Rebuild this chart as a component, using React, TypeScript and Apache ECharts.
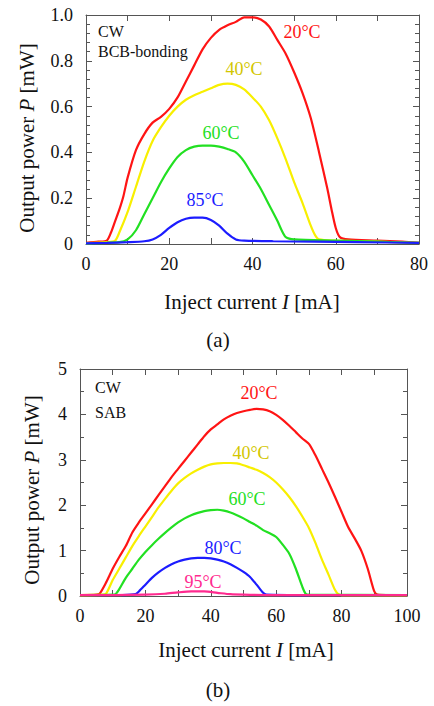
import React, { useEffect, useRef } from "react";
import * as echarts from "echarts";

// ---------- data: (a) BCB-bonding, current [mA] vs power [mW] ----------
const aRed20: [number, number][] = [
  [0, 0.005], [3, 0.01], [5, 0.015], [6, 0.05], [7, 0.1], [8, 0.15], [9, 0.21], [10, 0.29], [12, 0.41], [14, 0.48],
  [16, 0.53], [18, 0.555], [20, 0.59], [22, 0.64], [24, 0.71], [26, 0.78], [28, 0.85], [30, 0.9], [32, 0.935],
  [34, 0.955], [36, 0.97], [38, 0.99], [40, 0.99], [42, 0.98], [44, 0.95], [46, 0.89], [48, 0.83], [50, 0.75],
  [52, 0.66], [54, 0.55], [56, 0.4], [58, 0.24], [59, 0.15], [60, 0.07], [61, 0.03], [63, 0.02], [70, 0.015],
  [76, 0.01], [80, 0.005],
];
const aYellow40: [number, number][] = [
  [0, 0.003], [5, 0.008], [7, 0.015], [8, 0.05], [10, 0.14], [12, 0.25], [14, 0.36], [16, 0.45], [18, 0.51],
  [20, 0.56], [22, 0.6], [24, 0.63], [26, 0.65], [28, 0.665], [30, 0.68], [32, 0.695], [34, 0.7], [36, 0.695],
  [38, 0.675], [40, 0.64], [42, 0.6], [44, 0.54], [46, 0.46], [48, 0.37], [50, 0.27], [52, 0.18], [54, 0.08],
  [55, 0.04], [56, 0.02], [60, 0.015], [70, 0.01], [80, 0.005],
];
const aGreen60: [number, number][] = [
  [0, 0.003], [8, 0.008], [10, 0.02], [12, 0.06], [14, 0.13], [16, 0.2], [18, 0.27], [20, 0.33], [22, 0.38],
  [24, 0.41], [26, 0.425], [28, 0.43], [30, 0.43], [32, 0.425], [34, 0.415], [36, 0.4], [38, 0.36], [40, 0.3],
  [42, 0.24], [44, 0.17], [46, 0.1], [47, 0.06], [48, 0.03], [50, 0.02], [60, 0.015], [70, 0.01], [80, 0.005],
];
const aBlue85: [number, number][] = [
  [0, 0.003], [5, 0.005], [10, 0.008], [14, 0.012], [16, 0.02], [18, 0.04], [20, 0.07], [22, 0.095], [24, 0.11],
  [26, 0.115], [28, 0.115], [30, 0.105], [32, 0.08], [34, 0.045], [36, 0.02], [38, 0.015], [45, 0.012],
  [55, 0.01], [65, 0.008], [80, 0.005],
];

// ---------- data: (b) SAB ----------
const bRed20: [number, number][] = [
  [0, 0.02], [5, 0.03], [6, 0.05], [8, 0.3], [10, 0.6], [12, 0.86], [14, 1.1], [16, 1.4], [18, 1.62], [20, 1.82],
  [22, 2.02], [24, 2.22], [26, 2.42], [28, 2.62], [30, 2.8], [32, 2.98], [34, 3.16], [36, 3.34], [38, 3.52],
  [40, 3.67], [42, 3.78], [44, 3.89], [46, 3.97], [48, 4.03], [50, 4.07], [52, 4.1], [54, 4.12], [56, 4.11],
  [58, 4.07], [60, 3.99], [62, 3.88], [64, 3.75], [66, 3.61], [68, 3.47], [70, 3.35], [72, 3.1], [74, 2.8],
  [76, 2.5], [78, 2.18], [80, 1.85], [82, 1.52], [84, 1.27], [86, 1.0], [88, 0.6], [90, 0.1], [91, 0.03],
  [95, 0.02], [100, 0.02],
];
const bYellow40: [number, number][] = [
  [0, 0.02], [7, 0.03], [8, 0.05], [10, 0.35], [12, 0.6], [14, 0.85], [16, 1.1], [18, 1.32], [20, 1.53],
  [22, 1.74], [24, 1.95], [26, 2.14], [28, 2.32], [30, 2.48], [32, 2.6], [34, 2.7], [36, 2.78], [38, 2.85],
  [40, 2.9], [42, 2.92], [44, 2.93], [46, 2.93], [48, 2.92], [50, 2.88], [52, 2.83], [54, 2.78], [56, 2.71],
  [58, 2.62], [60, 2.5], [62, 2.35], [64, 2.18], [66, 1.98], [68, 1.75], [70, 1.5], [72, 1.17], [74, 0.8],
  [76, 0.47], [78, 0.13], [79, 0.04], [80, 0.02], [100, 0.02],
];
const bGreen60: [number, number][] = [
  [0, 0.02], [10, 0.03], [11, 0.05], [12, 0.15], [14, 0.4], [16, 0.6], [18, 0.8], [20, 0.97], [22, 1.12],
  [24, 1.26], [26, 1.39], [28, 1.51], [30, 1.62], [32, 1.71], [34, 1.78], [36, 1.83], [38, 1.87], [40, 1.89],
  [42, 1.9], [44, 1.88], [46, 1.84], [48, 1.78], [50, 1.71], [52, 1.63], [54, 1.55], [56, 1.45], [58, 1.38],
  [60, 1.3], [62, 1.13], [64, 0.93], [66, 0.6], [68, 0.2], [69, 0.05], [70, 0.03], [100, 0.02],
];
const bBlue80: [number, number][] = [
  [13, 0.02], [17, 0.04], [18, 0.1], [20, 0.25], [22, 0.4], [24, 0.52], [26, 0.62], [28, 0.7], [30, 0.76],
  [32, 0.8], [34, 0.83], [36, 0.84], [38, 0.84], [40, 0.83], [42, 0.8], [44, 0.76], [46, 0.7], [48, 0.62],
  [50, 0.53], [52, 0.42], [54, 0.25], [56, 0.07], [57, 0.03], [70, 0.02],
];
const bPink95: [number, number][] = [
  [0, 0.02], [10, 0.02], [20, 0.03], [26, 0.05], [30, 0.08], [34, 0.1], [38, 0.1], [42, 0.07], [46, 0.04],
  [50, 0.03], [60, 0.02], [100, 0.02],
];

const FONT = "Liberation Serif";
const RED = "#ff1414";
const YELLOW = "#f8ef00";
const YELLOW_TXT = "#d2c600";
const GREEN = "#22e022";
const BLUE = "#1c1cff";
const PINK = "#ff2a8f";
const FRAME = "#555555";

function axisPair(grid: number, min: number, max: number, interval: number, fmt: (v: number) => string, isX: boolean) {
  const common = {
    gridIndex: grid,
    type: "value" as const,
    min,
    max,
    interval,
    splitLine: { show: false },
    axisLine: { show: true, onZero: false, lineStyle: { color: FRAME, width: 1 } },
    axisTick: { show: true, inside: true, length: 6, lineStyle: { color: FRAME } },
    minorTick: { show: true, splitNumber: isX ? 2 : (grid === 0 ? 5 : 2), length: isX ? 6 : 4, lineStyle: { color: FRAME } },
  };
  return [
    {
      ...common,
      position: isX ? "bottom" : "left",
      axisLabel: {
        show: true,
        formatter: fmt,
        fontFamily: FONT,
        fontSize: 18,
        color: "#111",
        margin: isX ? 11 : 13,
      },
    },
    {
      ...common,
      position: isX ? "top" : "right",
      axisLabel: { show: false },
    },
  ];
}

function txt(x: number, y: number, text: string, color: string, size: number, align = "center") {
  return {
    type: "text",
    x,
    y,
    style: { text, fill: color, fontFamily: FONT, fontSize: size, fontWeight: "normal", align, verticalAlign: "middle" },
  };
}

function richTitle(x: number, y: number, pre: string, it: string, post: string, rotate: boolean) {
  return {
    type: "text",
    x,
    y,
    rotation: rotate ? Math.PI / 2 : 0,
    style: {
      text: `{a|${pre}}{i|${it}}{a|${post}}`,
      align: "center",
      verticalAlign: "middle",
      rich: {
        a: { fontFamily: FONT, fontSize: 21, fontWeight: "normal", fill: "#111" },
        i: { fontFamily: FONT, fontSize: 21, fontWeight: "normal", fontStyle: "italic", fill: "#111" },
      },
    },
  };
}

function line(data: [number, number][], color: string, grid: number) {
  return {
    type: "line",
    xAxisIndex: grid * 2,
    yAxisIndex: grid * 2,
    data,
    showSymbol: false,
    smooth: 0.25,
    lineStyle: { color, width: 2.2 },
    itemStyle: { color },
  };
}

export default function App() {
  const ref = useRef<HTMLDivElement>(null);
  useEffect(() => {
    if (!ref.current) return;
    const chart = echarts.init(ref.current, undefined, { renderer: "svg" });
    const xa = [
      ...axisPair(0, 0, 80, 20, (v: number) => String(v), true),
      ...axisPair(1, 0, 100, 20, (v: number) => String(v), true),
    ];
    const ya = [
      ...axisPair(0, 0, 1, 0.2, (v: number) => (v === 0 ? "0" : v.toFixed(1)), false),
      ...axisPair(1, 0, 5, 1, (v: number) => String(v), false),
    ];
    chart.setOption({
      animation: false,
      backgroundColor: "#ffffff",
      textStyle: { fontFamily: FONT },
      grid: [
        { left: 86, top: 15, width: 333, height: 229 },
        { left: 80, top: 369, width: 327, height: 227 },
      ],
      xAxis: xa,
      yAxis: ya,
      series: [
        line(aRed20, RED, 0),
        line(aYellow40, YELLOW, 0),
        line(aGreen60, GREEN, 0),
        line(aBlue85, BLUE, 0),
        line(bRed20, RED, 1),
        line(bYellow40, YELLOW, 1),
        line(bGreen60, GREEN, 1),
        line(bBlue80, BLUE, 1),
        line(bPink95, PINK, 1),
      ],
      graphic: [
        txt(98, 31, "CW", "#111", 16, "left"),
        txt(98, 51, "BCB-bonding", "#111", 16, "left"),
        txt(302, 32, "20°C", RED, 18),
        txt(244, 69, "40°C", YELLOW_TXT, 18),
        txt(221, 133, "60°C", GREEN, 18),
        txt(205, 200, "85°C", BLUE, 18),
        richTitle(252, 302, "Inject current ", "I", " [mA]", false),
        richTitle(27, 138, "Output power ", "P", " [mW]", true),
        txt(218, 340, "(a)", "#111", 21),
        txt(95, 387, "CW", "#111", 16, "left"),
        txt(95, 412, "SAB", "#111", 16, "left"),
        txt(259, 393, "20°C", RED, 18),
        txt(251, 453, "40°C", YELLOW_TXT, 18),
        txt(247, 499, "60°C", GREEN, 18),
        txt(223, 548, "80°C", BLUE, 18),
        txt(203, 582, "95°C", PINK, 18),
        richTitle(246, 650, "Inject current ", "I", " [mA]", false),
        richTitle(32, 490, "Output power ", "P", " [mW]", true),
        txt(218, 690, "(b)", "#111", 21),
      ],
    });
    return () => chart.dispose();
  }, []);
  return <div ref={ref} style={{ width: 434, height: 706, position: "absolute", left: 0, top: 0 }} />;
}
